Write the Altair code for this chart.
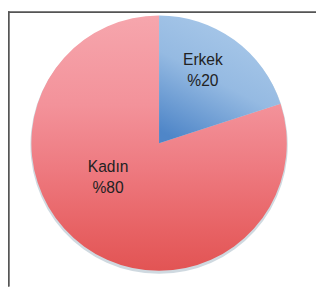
import altair as alt
import pandas as pd

categories = ["Erkek", "Kadın"]
values = [20, 80]
labels = ["Erkek\n%20", "Kadın\n%80"]

df = pd.DataFrame({"cat": categories, "value": values, "label": labels, "ord": [0, 1]})

W, H = 316, 282
CX, CY, R = 155, 135, 131

base = alt.Chart(df).transform_window(
    cum="sum(value)", sort=[alt.SortField("ord")]
).transform_calculate(
    start="datum.cum - datum.value", mid="datum.cum - datum.value/2"
)

theta_scale = alt.Scale(domain=[0, 100])

def arc_layer(cat, grad, **kw):
    return base.transform_filter(alt.datum.cat == cat).mark_arc(
        outerRadius=R, fill=grad, **kw
    ).encode(
        theta=alt.Theta("start:Q", scale=theta_scale),
        theta2="cum:Q",
        x=alt.value(CX), y=alt.value(CY),
    )

kadin_grad = alt.Gradient(
    gradient="linear",
    stops=[alt.GradientStop(color="#f6a6ad", offset=0),
           alt.GradientStop(color="#f3929a", offset=0.35),
           alt.GradientStop(color="#ee7a80", offset=0.6),
           alt.GradientStop(color="#e76163", offset=0.85),
           alt.GradientStop(color="#e25454", offset=1)],
    x1=0, y1=0, x2=0, y2=1,
)
erkek_grad = alt.Gradient(
    gradient="linear",
    stops=[alt.GradientStop(color="#abcaea", offset=0),
           alt.GradientStop(color="#95bae2", offset=0.5),
           alt.GradientStop(color="#4f86c8", offset=1)],
    x1=0.7, y1=0, x2=0.2, y2=1,
)

shadow = base.mark_arc(outerRadius=R + 1, color="#9fb3c2", opacity=0.5).encode(
    theta=alt.Theta("start:Q", scale=theta_scale),
    theta2="cum:Q",
    x=alt.value(CX), y=alt.value(CY + 2),
)

font = "Liberation Sans"

def text_layer(cat, r, dx, dy):
    return base.transform_filter(alt.datum.cat == cat).mark_text(
        radius=r, dx=dx, dy=dy, font=font, fontSize=16, color="#222222",
        lineBreak="\n", lineHeight=22, align="center", baseline="middle",
    ).encode(
        theta=alt.Theta("mid:Q", scale=theta_scale),
        text="label:N",
        x=alt.value(CX), y=alt.value(CY),
    )

frame_top = alt.Chart(df).mark_rule(color="#555555", strokeWidth=1.5).encode(
    x=alt.value(0), x2=alt.value(W), y=alt.value(0.75)
)
frame_left = alt.Chart(df).mark_rule(color="#555555", strokeWidth=1.5).encode(
    x=alt.value(0.75), y=alt.value(0), y2=alt.value(H)
)

chart = alt.layer(
    shadow,
    arc_layer("Kadın", kadin_grad),
    arc_layer("Erkek", erkek_grad),
    text_layer("Erkek", 86.7, -6, -15),
    text_layer("Kadın", 66, -13.5, -29),
    frame_top, frame_left,
).properties(
    width=W, height=H, autosize=alt.AutoSizeParams(type="none"), padding=0
).configure_view(stroke=None)

chart.save("out.html", embed_options={"renderer": "svg", "actions": False})
